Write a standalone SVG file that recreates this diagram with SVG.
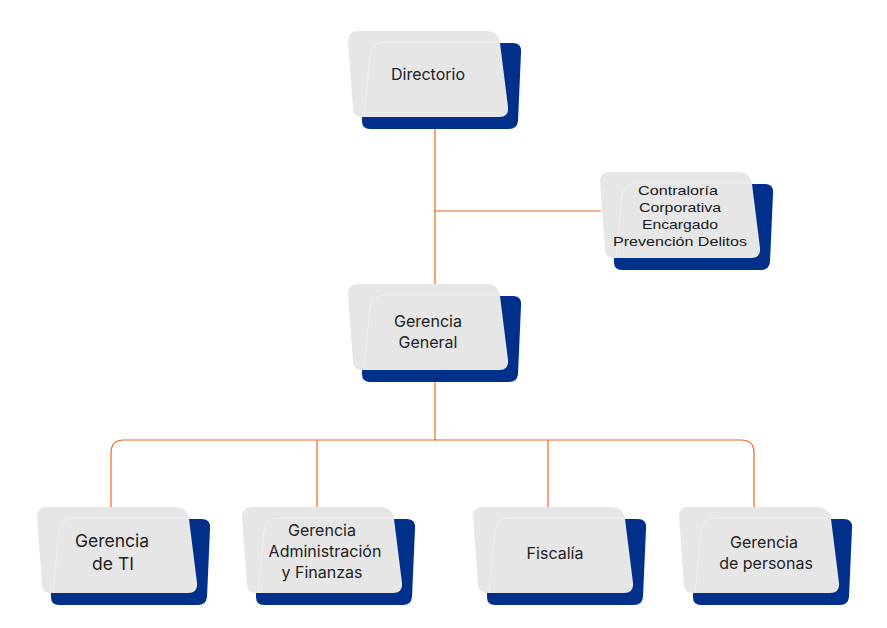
<svg xmlns="http://www.w3.org/2000/svg" width="887" height="628" viewBox="0 0 887 628">
<defs>
<style>
.bg{fill:#ffffff}
.blue{fill:#00308A}
.gray{fill:#E6E6E6}
.inner{fill:none;stroke:#F0F0F0;stroke-width:1}
.con{fill:none;stroke:#F06424;stroke-width:1.2}
.t{font-family:Inter,"Noto Sans","Liberation Sans",sans-serif;font-size:16px;fill:#222222;text-anchor:middle}
.ta{font-family:"Liberation Sans",Arial,sans-serif;font-size:13.5px;fill:#1a1a1a;text-anchor:middle}
</style>
<g id="card">
<path class="blue" d="M24,12 H165 Q174,12 173,22 L170,90 Q169,98 161,98 H22 Q14,98 14,90 V20 Q14,12 24,12 Z"/>
<path class="gray" d="M10,0 H138 Q150,0 152,12 L160,76 Q161,86 151,86 H14 Q5,86 5,77 L0,10 Q0,0 10,0 Z"/>
<path class="inner" d="M16,86 L22,24 Q24,11 37,11 H150"/>
</g>
</defs>
<rect class="bg" width="887" height="628"/>
<g id="connectors">
<path class="con" d="M435,128 V284"/>
<path class="con" d="M435,211 H601"/>
<path class="con" d="M435,370 V440"/>
<path class="con" d="M111,507 V453 Q111,440 124,440 H741 Q754,440 754,453 V507"/>
<path class="con" d="M317,440 V507"/>
<path class="con" d="M548,440 V507"/>
</g>
<g id="directorio">
<use href="#card" x="348" y="31"/>
<text class="t" x="428" y="80">Directorio</text>
</g>
<g id="contraloria">
<use href="#card" x="600" y="172"/>
<text class="ta" x="678" y="195" textLength="80" lengthAdjust="spacingAndGlyphs">Contraloría</text>
<text class="ta" x="680" y="212" textLength="82" lengthAdjust="spacingAndGlyphs">Corporativa</text>
<text class="ta" x="680" y="229" textLength="76" lengthAdjust="spacingAndGlyphs">Encargado</text>
<text class="ta" x="680" y="246" textLength="134" lengthAdjust="spacingAndGlyphs">Prevención Delitos</text>
</g>
<g id="gerencia-general">
<use href="#card" x="348" y="284"/>
<text class="t" x="428" y="327">Gerencia</text>
<text class="t" x="428" y="348">General</text>
</g>
<g id="gerencia-ti">
<use href="#card" x="37" y="507"/>
<text class="t" x="112" y="547" style="font-size:17.5px">Gerencia</text>
<text class="t" x="113" y="570" style="font-size:17.5px">de TI</text>
</g>
<g id="gerencia-admin">
<use href="#card" x="242" y="507"/>
<text class="t" x="322" y="536">Gerencia</text>
<text class="t" x="325" y="557">Administración</text>
<text class="t" x="322" y="578">y Finanzas</text>
</g>
<g id="fiscalia">
<use href="#card" x="473" y="507"/>
<text class="t" x="555" y="559">Fiscalía</text>
</g>
<g id="gerencia-personas">
<use href="#card" x="679" y="507"/>
<text class="t" x="764" y="548">Gerencia</text>
<text class="t" x="766" y="569">de personas</text>
</g>
</svg>
